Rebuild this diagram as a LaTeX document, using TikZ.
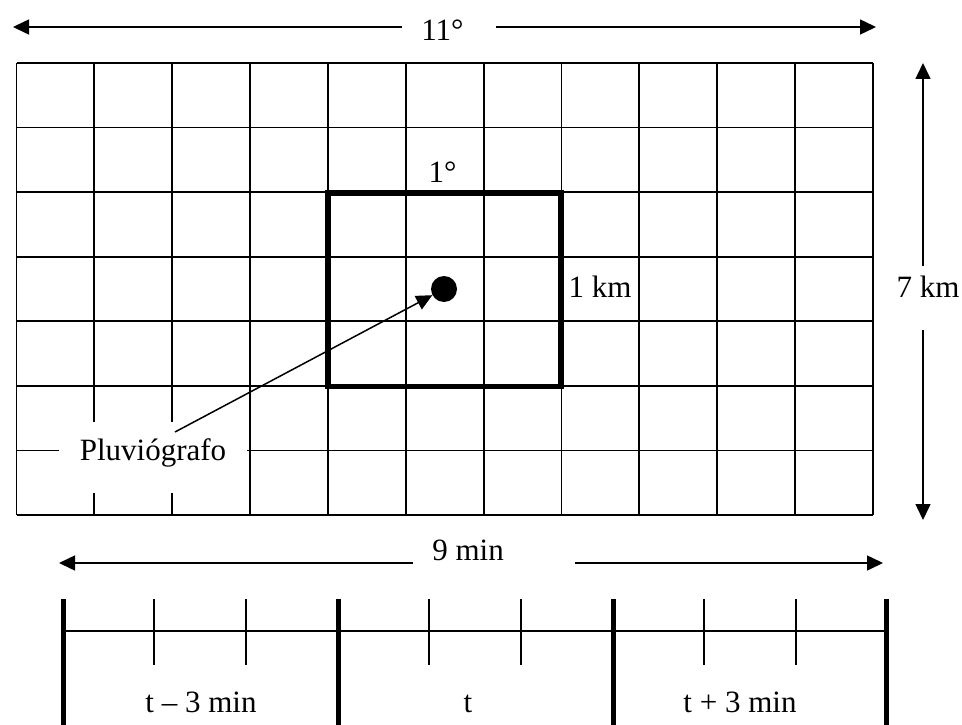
\documentclass[tikz,border=0pt]{standalone}
\usepackage{fontspec}
\setmainfont{Liberation Serif}
\usetikzlibrary{arrows.meta}
\begin{document}
\begin{tikzpicture}[x=1pt,y=-1pt,
  font=\fontsize{31}{36}\selectfont,
  gridline/.style={line width=1.8pt},
  thickline/.style={line width=5.5pt},
  thinline/.style={line width=1.5pt},
  arr/.style={line width=1.5pt,-{Triangle[length=16pt,width=15pt]}},
  lbl/.style={anchor=base,inner sep=0}]
\useasboundingbox (0,0) rectangle (962,725);
\fill[white] (0,0) rectangle (962,725);
% grid
\foreach \i in {0,...,11} \draw[gridline] ({16.5+77.86*\i},63) -- ({16.5+77.86*\i},515);
\foreach \j in {0,...,7} \draw[gridline] (16.5,{63+64.57*\j}) -- (873,{63+64.57*\j});
% thick square
\draw[thickline] (328,193.1) rectangle (561,386.4);
% dot
\node[circle,fill=black,inner sep=0,minimum size=26pt] (dot) at (444,289) {};
% labels
\node[lbl] (l11) at (442.5,41) {11°};
\node[lbl] (l1deg) at (442.5,182) {1°};
\node[lbl] (l1km) at (600,297) {1 km};
\node[lbl] (l7km) at (928,297) {7 km};
\node[fill=white,inner sep=0,anchor=base,text height=38pt,text depth=33pt,minimum width=188pt] (pluv) at (153,460) {Pluviógrafo};
\node[lbl] (l9) at (468,560) {9 min};
\node[lbl] (lt1) at (201,712) {t – 3 min};
\node[lbl] (lt2) at (468,712) {t};
\node[lbl] (lt3) at (740,712) {t + 3 min};
% arrow coordinates
\coordinate (ps) at (175,432);
\coordinate (a11l0) at (402,27);
\coordinate (a11l) at (13,27);
\coordinate (a11r0) at (496,27);
\coordinate (a11r) at (876,27);
\coordinate (v7t0) at (923,266);
\coordinate (v7t) at (923,63);
\coordinate (v7b0) at (923,330);
\coordinate (v7b) at (923,520);
\coordinate (a9l0) at (413,563);
\coordinate (a9l) at (59,563);
\coordinate (a9r0) at (575,563);
\coordinate (a9r) at (883,563);
% arrows
\draw[arr] (ps) -- (dot);
\draw[arr] (a11l0) -- (a11l);
\draw[arr] (a11r0) -- (a11r);
\draw[arr] (v7t0) -- (v7t);
\draw[arr] (v7b0) -- (v7b);
\draw[arr] (a9l0) -- (a9l);
\draw[arr] (a9r0) -- (a9r);
% timeline
\coordinate (tlL) at (63,631);
\coordinate (tlR) at (886,631);
\draw[thinline] (tlL) -- (tlR);
\foreach \x in {63,338,613,886} \draw[line width=5pt] (\x,599) -- (\x,725);
\foreach \x in {154,246,429,521,704,796} \draw[thinline] (\x,599) -- (\x,665);
\end{tikzpicture}
\end{document}
